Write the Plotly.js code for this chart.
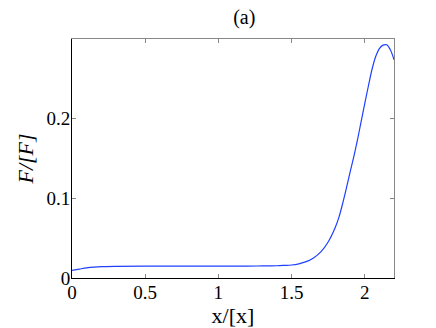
<!DOCTYPE html>
<html>
<head>
<meta charset="utf-8">
<script src="https://cdn.plot.ly/plotly-3.0.1.min.js"></script>
<style>
  html, body { margin: 0; padding: 0; background: #fff; }
  #chart { width: 436px; height: 328px; }
</style>
</head>
<body>
<div id="chart"></div>
<script>
// values
const x_values = [0, 0.05, 0.1, 0.15, 0.2, 0.3, 0.5, 0.8, 1.0, 1.2, 1.3, 1.4, 1.45, 1.5,
                  1.55, 1.6, 1.65, 1.7, 1.75, 1.8, 1.825, 1.85, 1.875, 1.9, 1.925, 1.95, 1.975,
                  2.0, 2.025, 2.05, 2.075, 2.1, 2.125, 2.15, 2.175, 2.2];
const force_values = [0.0096, 0.0112, 0.0127, 0.0137, 0.0143, 0.0147, 0.0149, 0.0149, 0.0149, 0.015, 0.0151, 0.0154, 0.0158, 0.0163,
                      0.0178, 0.0205, 0.0252, 0.0328, 0.0452, 0.064, 0.077, 0.094, 0.113, 0.133, 0.152, 0.173, 0.196,
                      0.219, 0.241, 0.262, 0.278, 0.288, 0.2923, 0.2927, 0.2865, 0.274];

const x_ticks = [0, 0.5, 1, 1.5, 2];
const x_tick_labels = ["0", "0.5", "1", "1.5", "2"];
const y_ticks = [0, 0.1, 0.2];
const y_tick_labels = ["0", "0.1", "0.2"];

const FONT = "Times New Roman, Liberation Serif, DejaVu Serif, serif";

let traces = [
    {
        type: 'scatter',
        mode: 'lines',
        x: x_values,
        y: force_values,
        line: { color: '#2040ff', width: 1.2, shape: 'spline', smoothing: 1 },
        hoverinfo: 'none',
    },
    // dummy trace so the mirrored (gray) axes are drawn
    {
        type: 'scatter', mode: 'lines',
        x: [0], y: [0], xaxis: 'x2', yaxis: 'y2',
        line: { width: 0 }, showlegend: false, hoverinfo: 'none',
    },
];

let layout = {
    width: 436,
    height: 328,
    margin: { l: 72, r: 42, t: 39, b: 50, pad: 0 },
    showlegend: false,
    paper_bgcolor: '#fff',
    plot_bgcolor: '#fff',
    font: { family: FONT, color: '#000', size: 19 },
    title: {
        text: '(a)',
        font: { family: FONT, size: 20, color: '#000' },
        x: 0.535, xanchor: 'center',
        y: 0.948, yanchor: 'middle',
        xref: 'paper', yref: 'container',
    },
    xaxis: {
        range: [0, 2.2],
        tickvals: x_ticks,
        ticktext: x_tick_labels,
        ticks: 'inside', ticklen: 4, tickcolor: '#888', tickwidth: 1,
        ticklabelstandoff: -3,
        showline: true, linecolor: '#000', linewidth: 1,
        showgrid: false, zeroline: false,
        tickfont: { family: FONT, size: 19 },
        title: { text: 'x/[x]', font: { family: FONT, size: 22 }, standoff: 3 },
        automargin: false,
    },
    yaxis: {
        range: [0, 0.3],
        tickvals: y_ticks,
        ticktext: y_tick_labels,
        ticks: 'inside', ticklen: 4, tickcolor: '#888', tickwidth: 1,
        ticklabelstandoff: -3,
        showline: true, linecolor: '#000', linewidth: 1,
        showgrid: false, zeroline: false,
        tickfont: { family: FONT, size: 19 },
        title: { text: '<i>F/[F]</i>', font: { family: FONT, size: 22 }, standoff: 6 },
        automargin: false,
    },
    xaxis2: {
        overlaying: 'x', matches: 'x', side: 'top',
        range: [0, 2.2], tickvals: x_ticks, showticklabels: false,
        ticks: 'inside', ticklen: 4, tickcolor: '#888',
        showline: true, linecolor: '#888', linewidth: 1,
        showgrid: false, zeroline: false,
    },
    yaxis2: {
        overlaying: 'y', matches: 'y', side: 'right',
        range: [0, 0.3], tickvals: y_ticks, showticklabels: false,
        ticks: 'inside', ticklen: 4, tickcolor: '#888',
        showline: true, linecolor: '#888', linewidth: 1,
        showgrid: false, zeroline: false,
    },
};

Plotly.newPlot('chart', traces, layout, { displayModeBar: false, staticPlot: true });
</script>
</body>
</html>
